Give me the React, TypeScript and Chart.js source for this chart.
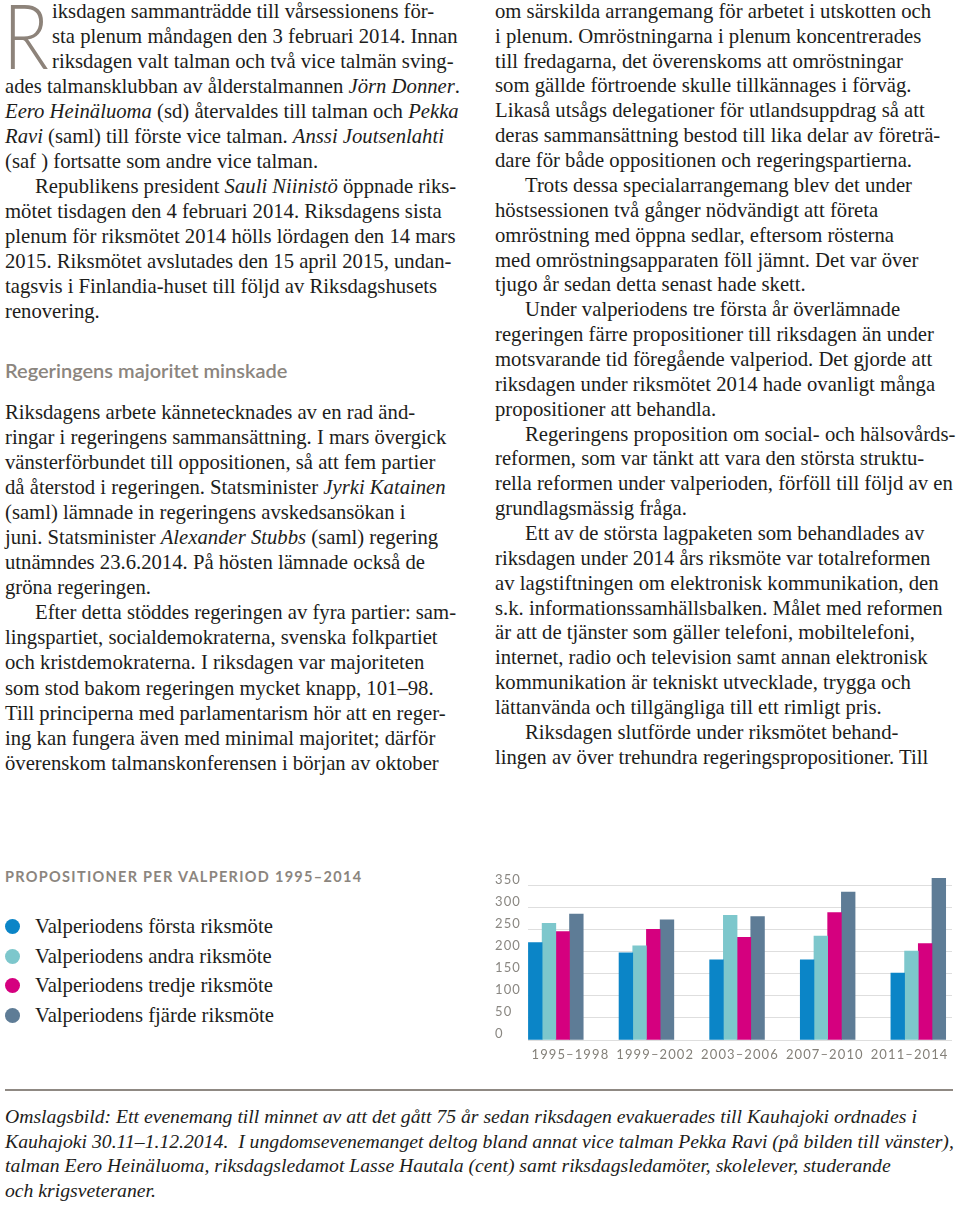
import React, { useEffect, useRef } from "react";
import { Chart, registerables } from "chart.js";

Chart.register(...registerables);

// ---------- chart data ----------
const periods = ["1995–1998", "1999–2002", "2003–2006", "2007–2010", "2011–2014"];
const seriesNames = [
  "Valperiodens första riksmöte",
  "Valperiodens andra riksmöte",
  "Valperiodens tredje riksmöte",
  "Valperiodens fjärde riksmöte",
];
const firstSession = [221, 198, 182, 182, 152];
const secondSession = [265, 214, 283, 236, 202];
const thirdSession = [246, 251, 233, 289, 219];
const fourthSession = [286, 273, 280, 336, 367];
const yTicks = [0, 50, 100, 150, 200, 250, 300, 350];
const seriesColors = ["#0b85c7", "#7dc7cc", "#d5007f", "#5e7c96"];
const chartTitle = "PROPOSITIONER PER VALPERIOD 1995–2014";

// ---------- page text ----------
const introLines = [
  "iksdagen sammanträdde till vårsessionens för-",
  "sta plenum måndagen den 3 februari 2014. Innan",
  "riksdagen valt talman och två vice talmän sving-",
  "ades talmansklubban av ålderstalmannen *Jörn Donner*.",
  "*Eero Heinäluoma* (sd) återvaldes till talman och *Pekka*",
  "*Ravi* (saml) till förste vice talman. *Anssi Joutsenlahti*",
  "(saf ) fortsatte som andre vice talman.",
  ">Republikens president *Sauli Niinistö* öppnade riks-",
  "mötet tisdagen den 4 februari 2014. Riksdagens sista",
  "plenum för riksmötet 2014 hölls lördagen den 14 mars",
  "2015. Riksmötet avslutades den 15 april 2015, undan-",
  "tagsvis i Finlandia-huset till följd av Riksdagshusets",
  "renovering.",
];
const heading = "Regeringens majoritet minskade";
const leftLines = [
  "Riksdagens arbete kännetecknades av en rad änd-",
  "ringar i regeringens sammansättning. I mars övergick",
  "vänsterförbundet till oppositionen, så att fem partier",
  "då återstod i regeringen. Statsminister *Jyrki Katainen*",
  "(saml) lämnade in regeringens avskedsansökan i",
  "juni. Statsminister *Alexander Stubbs* (saml) regering",
  "utnämndes 23.6.2014. På hösten lämnade också de",
  "gröna regeringen.",
  ">Efter detta stöddes regeringen av fyra partier: sam-",
  "lingspartiet, socialdemokraterna, svenska folkpartiet",
  "och kristdemokraterna. I riksdagen var majoriteten",
  "som stod bakom regeringen mycket knapp, 101–98.",
  "Till principerna med parlamentarism hör att en reger-",
  "ing kan fungera även med minimal majoritet; därför",
  "överenskom talmanskonferensen i början av oktober",
];
const rightLines = [
  "om särskilda arrangemang för arbetet i utskotten och",
  "i plenum. Omröstningarna i plenum koncentrerades",
  "till fredagarna, det överenskoms att omröstningar",
  "som gällde förtroende skulle tillkännages i förväg.",
  "Likaså utsågs delegationer för utlandsuppdrag så att",
  "deras sammansättning bestod till lika delar av företrä-",
  "dare för både oppositionen och regeringspartierna.",
  ">Trots dessa specialarrangemang blev det under",
  "höstsessionen två gånger nödvändigt att företa",
  "omröstning med öppna sedlar, eftersom rösterna",
  "med omröstningsapparaten föll jämnt. Det var över",
  "tjugo år sedan detta senast hade skett.",
  ">Under valperiodens tre första år överlämnade",
  "regeringen färre propositioner till riksdagen än under",
  "motsvarande tid föregående valperiod. Det gjorde att",
  "riksdagen under riksmötet 2014 hade ovanligt många",
  "propositioner att behandla.",
  ">Regeringens proposition om social- och hälsovårds-",
  "reformen, som var tänkt att vara den största struktu-",
  "rella reformen under valperioden, förföll till följd av en",
  "grundlagsmässig fråga.",
  ">Ett av de största lagpaketen som behandlades av",
  "riksdagen under 2014 års riksmöte var totalreformen",
  "av lagstiftningen om elektronisk kommunikation, den",
  "s.k. informationssamhällsbalken. Målet med reformen",
  "är att de tjänster som gäller telefoni, mobiltelefoni,",
  "internet, radio och television samt annan elektronisk",
  "kommunikation är tekniskt utvecklade, trygga och",
  "lättanvända och tillgängliga till ett rimligt pris.",
  ">Riksdagen slutförde under riksmötet behand-",
  "lingen av över trehundra regeringspropositioner. Till",
];
const captionLines = [
  "Omslagsbild: Ett evenemang till minnet av att det gått 75 år sedan riksdagen evakuerades till Kauhajoki ordnades i",
  "Kauhajoki 30.11–1.12.2014.  I ungdomsevenemanget deltog bland annat vice talman Pekka Ravi (på bilden till vänster),",
  "talman Eero Heinäluoma, riksdagsledamot Lasse Hautala (cent) samt riksdagsledamöter, skolelever, studerande",
  "och krigsveteraner.",
];

const SERIF = "'Liberation Serif', 'Times New Roman', serif";
const SANS = "Lato, 'Open Sans', sans-serif";
const TEXT = "#1d1d1b";
const GRAY = "#8b857e";
const BODY_SIZE = 20.7;

function renderInline(s: string) {
  const parts = s.split("*");
  return parts.map((p, i) =>
    i % 2 ? <i key={i}>{p}</i> : <React.Fragment key={i}>{p}</React.Fragment>
  );
}

function TextBlock(props: {
  lines: string[];
  left: number;
  top: number;
  lineHeight: number;
  fontSize: number;
  dropLines?: number;
  dropIndent?: number;
}) {
  const { lines, left, top, lineHeight, fontSize, dropLines = 0, dropIndent = 0 } = props;
  return (
    <div
      style={{
        position: "absolute",
        left,
        top,
        fontFamily: SERIF,
        fontSize,
        lineHeight: lineHeight + "px",
        color: TEXT,
        whiteSpace: "pre",
      }}
    >
      {lines.map((l, i) => {
        const indent = l.startsWith(">");
        const txt = indent ? l.slice(1) : l;
        const pad = i < dropLines ? dropIndent : indent ? 30 : 0;
        return (
          <div key={i} style={{ height: lineHeight, paddingLeft: pad }}>
            {renderInline(txt)}
          </div>
        );
      })}
    </div>
  );
}

const letterSpacingPlugin = {
  id: "letterSpacing",
  beforeDraw(chart: any) {
    chart.ctx.letterSpacing = "1.1px";
  },
  afterDraw(chart: any) {
    chart.ctx.letterSpacing = "0px";
  },
};

function BarChart() {
  const ref = useRef<HTMLCanvasElement>(null);
  useEffect(() => {
    if (!ref.current) return;
    const series = [firstSession, secondSession, thirdSession, fourthSession];
    const chart = new Chart(ref.current, {
      type: "bar",
      data: {
        labels: periods,
        datasets: series.map((vals, si) => ({
          label: seriesNames[si],
          data: vals.map((v, i) => ({ x: i, y: v })),
          backgroundColor: seriesColors[si],
          borderWidth: 0,
          barThickness: 13.7,
          xAxisID: "x",
          yAxisID: "y",
        })),
      },
      options: {
        responsive: false,
        animation: false,
        devicePixelRatio: 1,
        layout: { padding: { left: 15, right: 8, top: 17, bottom: 0 } },
        plugins: {
          legend: { display: false },
          title: { display: false },
          tooltip: { enabled: false },
        },
        scales: {
          x: {
            type: "linear",
            display: false,
            offset: false,
            min: -0.307,
            max: 4.372,
            ticks: { stepSize: 1, includeBounds: false },
            grid: { display: false },
          },
          xl: {
            type: "category",
            position: "bottom",
            offset: true,
            grid: { display: false, drawTicks: false },
            border: { display: false },
            ticks: {
              color: "#848079",
              padding: 7,
              maxRotation: 0,
              autoSkip: false,
              font: { family: SANS, size: 13 },
            },
            afterFit: (scale: any) => {
              scale.height = 30;
            },
          },
          y: {
            type: "linear",
            position: "left",
            min: 0,
            max: 370,
            afterBuildTicks: (scale: any) => {
              scale.ticks = yTicks.map((v) => ({ value: v }));
            },
            ticks: {
              color: "#8a8782",
              crossAlign: "far",
              labelOffset: -6,
              padding: 0,
              font: { family: SANS, size: 13 },
            },
            grid: { color: "#dedede", lineWidth: 1, drawTicks: false },
            border: { display: false },
            afterFit: (scale: any) => {
              scale.width = 33;
            },
          },
        },
      } as any,
      plugins: [letterSpacingPlugin],
    });
    return () => chart.destroy();
  }, []);
  return (
    <canvas
      ref={ref}
      width={480}
      height={210}
      style={{ position: "absolute", left: 480, top: 860, width: 480, height: 210 }}
    />
  );
}

export default function App() {
  return (
    <div style={{ position: "relative", width: 960, height: 1206, background: "#fff", overflow: "hidden" }}>
      <style>{"body{margin:0}"}</style>

      {/* drop cap */}
      <div
        style={{
          position: "absolute",
          left: 3,
          top: 1,
          fontFamily: SANS,
          fontWeight: 300,
          fontSize: 90,
          lineHeight: "66px",
          height: 70,
          color: "#8d837a",
          transform: "scaleX(0.84)",
          transformOrigin: "left top",
        }}
      >
        R
      </div>

      <TextBlock lines={introLines} left={5} top={-1.2} lineHeight={25} fontSize={BODY_SIZE} dropLines={3} dropIndent={47} />

      <div
        style={{
          position: "absolute",
          left: 5,
          top: 360,
          fontFamily: SANS,
          fontWeight: 600,
          fontSize: 20,
          lineHeight: "20px",
          color: GRAY,
          whiteSpace: "nowrap",
        }}
      >
        {heading}
      </div>

      <TextBlock lines={leftLines} left={5} top={399.5} lineHeight={25.1} fontSize={BODY_SIZE} />
      <TextBlock lines={rightLines} left={495} top={-1.1} lineHeight={24.87} fontSize={BODY_SIZE} />

      {/* chart title and legend */}
      <div
        style={{
          position: "absolute",
          left: 5,
          top: 870,
          fontFamily: SANS,
          fontWeight: 700,
          fontSize: 14.5,
          lineHeight: "14.5px",
          letterSpacing: 1.3,
          color: GRAY,
          whiteSpace: "nowrap",
        }}
      >
        {chartTitle}
      </div>
      {seriesNames.map((name, i) => (
        <div
          key={name}
          style={{
            position: "absolute",
            left: 5,
            top: 914 + i * 29.5,
            height: 25,
            display: "flex",
            alignItems: "center",
            whiteSpace: "nowrap",
          }}
        >
          <span
            style={{
              display: "inline-block",
              width: 15,
              height: 15,
              borderRadius: "50%",
              background: seriesColors[i],
              marginRight: 15,
            }}
          />
          <span style={{ fontFamily: SERIF, fontSize: BODY_SIZE, color: TEXT, lineHeight: "25px" }}>{name}</span>
        </div>
      ))}

      <BarChart />

      {/* rule and caption */}
      <div style={{ position: "absolute", left: 5, top: 1088.5, width: 948, height: 2, background: "#8f8983" }} />
      <div
        style={{
          position: "absolute",
          left: 5,
          top: 1104,
          fontFamily: SERIF,
          fontStyle: "italic",
          fontSize: 19.7,
          lineHeight: "24.6px",
          color: TEXT,
          whiteSpace: "pre",
        }}
      >
        {captionLines.map((l, i) => (
          <div key={i}>{l}</div>
        ))}
      </div>
    </div>
  );
}
